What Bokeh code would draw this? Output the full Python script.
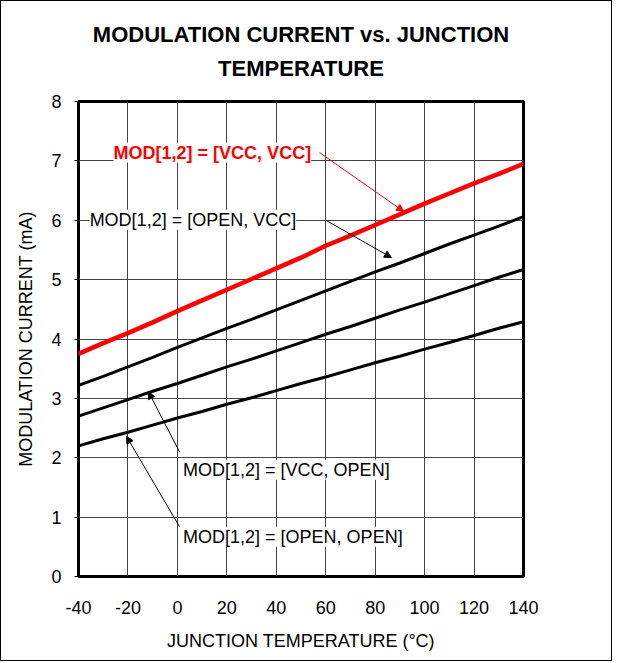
from bokeh.plotting import figure
from bokeh.models import Label, Arrow, NormalHead, FixedTicker, Range1d, Title
from bokeh.embed import file_html
from bokeh.resources import INLINE

temps = [-40, -30, -20, -10, 0, 10, 20, 30, 40, 50, 60, 70, 80, 90, 100, 110, 120, 130, 140]
vcc_vcc = [3.75, 3.93, 4.10, 4.28, 4.47, 4.65, 4.83, 5.01, 5.19, 5.37, 5.57, 5.74, 5.92, 6.10, 6.28, 6.45, 6.62, 6.78, 6.95]
open_vcc = [3.22, 3.37, 3.53, 3.69, 3.86, 4.02, 4.18, 4.33, 4.49, 4.65, 4.81, 4.97, 5.13, 5.28, 5.44, 5.60, 5.75, 5.90, 6.06]
vcc_open = [2.70, 2.84, 2.98, 3.12, 3.25, 3.39, 3.53, 3.66, 3.80, 3.94, 4.08, 4.21, 4.35, 4.49, 4.62, 4.76, 4.90, 5.04, 5.17]
open_open = [2.20, 2.32, 2.43, 2.55, 2.67, 2.78, 2.90, 3.01, 3.13, 3.25, 3.36, 3.48, 3.60, 3.71, 3.83, 3.94, 4.06, 4.18, 4.29]

x_ticks = [-40, -20, 0, 20, 40, 60, 80, 100, 120, 140]
y_ticks = [0, 1, 2, 3, 4, 5, 6, 7, 8]

FONT = "Liberation Sans"

p = figure(width=612, height=661, output_backend="svg", toolbar_location=None,
           x_range=Range1d(-40, 140), y_range=Range1d(0, 8),
           min_border_left=77, min_border_right=90, min_border_top=100, min_border_bottom=86)
p.styles = {"border": "1px solid black"}

p.outline_line_color = "black"
p.outline_line_width = 3

p.xaxis.ticker = FixedTicker(ticks=x_ticks)
p.yaxis.ticker = FixedTicker(ticks=y_ticks)
p.xgrid.ticker = FixedTicker(ticks=x_ticks)
p.ygrid.ticker = FixedTicker(ticks=y_ticks)
for g in (p.xgrid, p.ygrid):
    g.grid_line_color = "#444444"
    g.grid_line_width = 1

for ax in (p.xaxis, p.yaxis):
    ax.axis_line_color = None
    ax.minor_tick_line_color = None
    ax.major_tick_in = 0
    ax.major_label_text_font = FONT
    ax.major_label_text_font_size = "18px"
    ax.major_label_text_color = "black"
    ax.axis_label_text_font = FONT
    ax.axis_label_text_font_size = "18px"
    ax.axis_label_text_font_style = "normal"
    ax.axis_label_text_color = "black"

p.xaxis.major_tick_out = 0
p.xaxis.major_label_standoff = 24
p.xaxis.major_label_overrides = {t: str(t) for t in x_ticks}
p.xaxis.axis_label = "JUNCTION TEMPERATURE (°C)"
p.xaxis.axis_label_standoff = 14
p.yaxis.major_tick_out = 4
p.yaxis.major_label_standoff = 13
p.yaxis.axis_label = "MODULATION CURRENT (mA)"
p.yaxis.axis_label_standoff = 12

p.line(temps, open_open, line_color="black", line_width=3)
p.line(temps, vcc_open, line_color="black", line_width=3)
p.line(temps, open_vcc, line_color="black", line_width=3)
p.line(temps, vcc_vcc, line_color="red", line_width=4.5)

# titles (first added is closest to the plot); a tiny blank spacer first
p.add_layout(Title(text=" ", align="center", standoff=13, text_font_size="2px"), "above")
p.add_layout(Title(text="TEMPERATURE", align="center", offset=11, standoff=8,
                   text_font=FONT, text_font_size="22px", text_font_style="bold",
                   text_color="black"), "above")
p.add_layout(Title(text="MODULATION CURRENT vs. JUNCTION", align="center", offset=11, standoff=5,
                   text_font=FONT, text_font_size="22px", text_font_style="bold",
                   text_color="black"), "above")

def note(x, y, t, color="black", bold=False):
    p.add_layout(Label(x=x, y=y, text=t, text_align="left", text_baseline="middle",
                       text_font=FONT, text_font_size="18px",
                       text_font_style="bold" if bold else "normal", text_color=color,
                       background_fill_color="white"))

note(-25.8, 7.14, "MOD[1,2] = [VCC, VCC]", color="red", bold=True)
note(-35.5, 6.01, "MOD[1,2] = [OPEN, VCC]")
note(2.3, 1.80, "MOD[1,2] = [VCC, OPEN]")
note(2.3, 0.67, "MOD[1,2] = [OPEN, OPEN]")

def arrow(x0, y0, x1, y1, color="black"):
    p.add_layout(Arrow(x_start=x0, y_start=y0, x_end=x1, y_end=y1, line_color=color, line_width=1,
                       end=NormalHead(size=7, line_color=color, fill_color=color)))

arrow(57.5, 7.14, 91.5, 6.15, color="red")
arrow(60.5, 5.99, 86.6, 5.37)
arrow(0.85, 2.10, -11.7, 3.11)
arrow(0.85, 0.84, -20.6, 2.36)

open("out.html", "w").write(file_html(p, INLINE))
